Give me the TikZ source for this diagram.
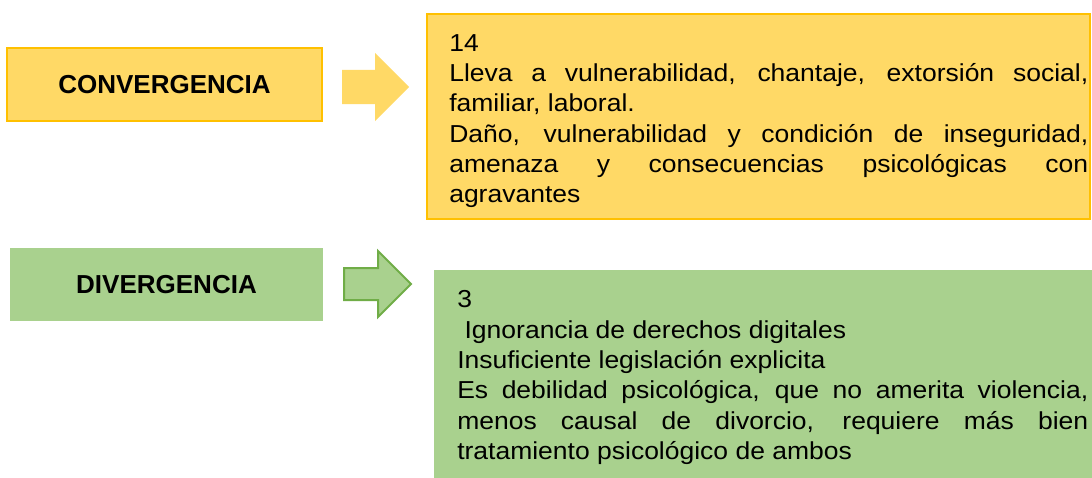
\documentclass[tikz,border=0pt]{standalone}
\usepackage{fontspec}
\setmainfont{Liberation Sans}
\newfontfamily\bodyfont[FakeStretch=1.08]{Liberation Sans}
\definecolor{ylwfill}{HTML}{FFD966}
\definecolor{ylwline}{HTML}{FFC000}
\definecolor{grnfill}{HTML}{A9D18E}
\definecolor{grnline}{HTML}{70AD47}
\tikzset{
  labelbox/.style={inner sep=0pt, font=\fontsize{19.5pt}{23pt}\selectfont\bfseries, text=black},
  bigbox/.style={inner sep=0pt},
  bodytext/.style={inner sep=0pt, anchor=north west, align=justify,
    font=\bodyfont\fontsize{18.4pt}{22.75pt}\selectfont, text=black},
}
\begin{document}
\begin{tikzpicture}[x=0.75pt,y=-0.75pt]
\useasboundingbox[fill=white] (0,0) rectangle (1092,478);
% left label boxes
\node[labelbox, fill=ylwfill, draw=ylwline, line width=1.5pt,
      minimum width=236.25pt, minimum height=54.75pt] (conv) at (164.5,84.5) {CONVERGENCIA};
\node[labelbox, fill=grnfill,
      minimum width=234.75pt, minimum height=54.75pt] (div) at (166.5,284.5) {DIVERGENCIA};
% block arrows
\fill[ylwfill] (342,70) -- (375,70) -- (375,53) -- (409,87) -- (375,121) -- (375,104) -- (342,104) -- cycle;
\filldraw[fill=grnfill, draw=grnline, line width=1.5pt, line join=miter]
  (344,268) -- (378,268) -- (378,251) -- (411,284) -- (378,317) -- (378,300) -- (344,300) -- cycle;
% right boxes
\node[bigbox, fill=ylwfill, draw=ylwline, line width=1.5pt,
      minimum width=497.25pt, minimum height=153.75pt] (convtext) at (758.5,116.5) {};
\node[bigbox, fill=grnfill,
      minimum width=510pt, minimum height=165pt] (divtext) at (774,380) {};
% texts
\node[bodytext, text width=479.25pt] (convbody) at (449,34) {%
\parindent=0pt\parskip=0pt
14\par
Lleva a vulnerabilidad, chantaje, extorsión social,\linebreak familiar, laboral.\par
Daño, vulnerabilidad y condición de inseguridad,\linebreak amenaza y consecuencias psicológicas con\linebreak agravantes};
\node[bodytext, text width=473.25pt] (divbody) at (457,290.5) {%
\parindent=0pt\parskip=0pt
3\par
\ Ignorancia de derechos digitales\par
Insuficiente legislación explicita\par
Es debilidad psicológica, que no amerita violencia,\linebreak menos causal de divorcio, requiere más bien\linebreak tratamiento psicológico de ambos};
\end{tikzpicture}
\end{document}
